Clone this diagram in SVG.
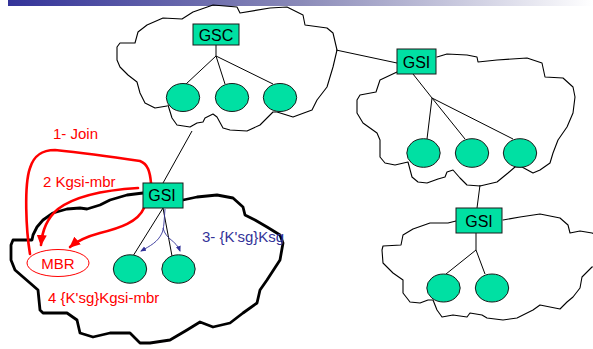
<svg xmlns="http://www.w3.org/2000/svg" width="593" height="349" viewBox="0 0 593 349">
<defs>
<linearGradient id="bar" x1="0" y1="0" x2="1" y2="0">
<stop offset="0" stop-color="#333399"/>
<stop offset="0.5" stop-color="#8a8ab8"/>
<stop offset="1" stop-color="#ffffff"/>
</linearGradient>
<marker id="redArrow" markerUnits="userSpaceOnUse" markerWidth="12" markerHeight="10" refX="10" refY="5" orient="auto">
<path d="M0,0 L11,5 L0,10 z" fill="#ff0000"/>
</marker>
<marker id="blueArrow" markerUnits="userSpaceOnUse" markerWidth="6" markerHeight="6" refX="5" refY="3" orient="auto">
<path d="M0,0.5 L6,3 L0,5.5 z" fill="#333399"/>
</marker>
</defs>
<style>
.cloud{fill:none;stroke:#000;stroke-width:1.1;stroke-linejoin:round;stroke-linecap:round}
.bold{stroke-width:2.8}
.box{fill:#00E0A3;stroke:#1a1a1a;stroke-width:1}
.node{fill:#00E0A3;stroke:#1a1a1a;stroke-width:1}
.lbl{font-family:"Liberation Sans",Arial,sans-serif;font-size:16px;fill:#000;text-anchor:middle}
.red{font-family:"Liberation Sans",Arial,sans-serif;font-size:15px;fill:#ff0000}
.blue{font-family:"Liberation Sans",Arial,sans-serif;font-size:15px;fill:#333399}
.ln{stroke:#000;stroke-width:1;fill:none}
.rc{stroke:#ff0000;stroke-width:2.6;fill:none;stroke-linecap:round}
.bc{stroke:#333399;stroke-width:0.9;fill:none}
</style>
<rect x="8" y="0" width="585" height="6" fill="url(#bar)"/>

<g id="clouds">
<path class="cloud" d="M167,106 L155,108 L145,103 L140,93 L137,82 L128,75 L120,67 L117,60 L117,47 L120,43 L135,43 L138,32 L147,25 L163,18 L182,19 L193,12 L213,5 L237,7 L240,13 L270,8 L287,7 L303,15 L305,25 L327,28 L333,33 L337,50 L333,67 L327,87 L317,100 L312,110 L293,117 L277,112 L273,112 L260,125 L247,131 L230,130 L223,128 L217,117 L213,114 L205,118 L203,122 L197,123 L190,127 L177,125 L172,118 L168,105"/>
<path class="cloud" d="M437,57 L447,54 L467,55 L477,57 L478,62 L497,60 L527,58 L542,63 L545,77 L563,78 L573,87 L575,97 L573,113 L567,127 L558,140 L553,153 L550,163 L540,170 L533,173 L522,167 L515,167 L508,173 L497,182 L480,186 L467,185 L460,178 L453,170 L447,172 L445,177 L438,179 L427,183 L418,182 L412,177 L408,162 L395,165 L385,163 L380,157 L380,140 L377,133 L363,123 L357,113 L357,100 L360,95 L376,92 L380,80 L397,72"/>
<path class="cloud" d="M503,220 L520,217 L540,214 L560,218 L568,225 L570,233 L580,231 L592,233 L600,236 L600,265 L592,267 L582,277 L580,288 L573,297 L567,302 L560,309 L540,305 L533,310 L517,318 L503,320 L487,318 L482,315 L470,313 L467,317 L453,315 L442,317 L437,310 L433,300 L428,300 L420,303 L410,302 L403,293 L403,280 L393,273 L383,263 L382,250 L383,246 L401,245 L403,235 L413,229 L430,223 L448,223 L456,221"/>
<path class="cloud bold" d="M183,200 L197,197 L217,195 L233,198 L243,207 L245,215 L255,220 L267,227 L280,235 L283,243 L280,260 L267,280 L260,290 L257,303 L243,313 L230,323 L213,327 L200,322 L187,330 L170,340 L150,343 L140,343 L130,333 L110,333 L93,337 L80,333 L77,320 L67,313 L43,313 L40,310 L38,290 L30,283 L15,270 L11,260 L11,245 L13,240 L32,240 L33,235 L37,227 L43,220 L53,213 L67,209 L80,208 L87,209 L100,205 L110,200 L127,195 L143,193"/>
</g>

<g id="connectors">
<line class="ln" x1="216" y1="45" x2="216" y2="56"/>
<line class="ln" x1="216" y1="56" x2="186" y2="84"/>
<line class="ln" x1="216" y1="56" x2="225" y2="84"/>
<line class="ln" x1="216" y1="56" x2="273" y2="84"/>
<line class="ln" x1="336" y1="50" x2="397" y2="63"/>
<line class="ln" x1="413" y1="74" x2="432" y2="98"/>
<line class="ln" x1="432" y1="98" x2="427" y2="139"/>
<line class="ln" x1="432" y1="98" x2="465" y2="139"/>
<line class="ln" x1="432" y1="98" x2="513" y2="139"/>
<line class="ln" x1="480" y1="185" x2="477" y2="208"/>
<line class="ln" x1="476" y1="233" x2="476" y2="250"/>
<line class="ln" x1="476" y1="250" x2="446" y2="274"/>
<line class="ln" x1="476" y1="250" x2="485" y2="274"/>
<line class="ln" x1="192" y1="131" x2="163" y2="183"/>
<line class="ln" x1="163" y1="208" x2="133" y2="256"/>
<line class="ln" x1="163" y1="208" x2="172" y2="256"/>
<path class="bc" d="M165,209 C164,222 164,228 162,233 C158,242 150,246 141,251" marker-end="url(#blueArrow)"/>
<path class="bc" d="M163,228 C166,240 176,240 180,251" marker-end="url(#blueArrow)"/>
<path class="rc" d="M30,254 C26,230 24,185 30,168 C34,155 42,150 55,150 C75,152 120,158 140,161 C148,164 150,172 151,183"/>
<path class="rc" d="M138,188 C105,190 75,196 58,209 C46,219 42,232 41,245" marker-end="url(#redArrow)"/>
<path class="rc" d="M144,208 C138,222 120,228 100,233 C85,237 77,241 70,247" marker-end="url(#redArrow)"/>
</g>

<g id="gsc"><rect class="box" x="193" y="24" width="46" height="21"/><text class="lbl" x="216" y="40.5">GSC</text></g>
<g id="gsc-m1"><ellipse class="node" cx="183" cy="97.5" rx="16.7" ry="14"/></g>
<g id="gsc-m2"><ellipse class="node" cx="232" cy="97.5" rx="16.7" ry="14"/></g>
<g id="gsc-m3"><ellipse class="node" cx="280" cy="97.5" rx="16.7" ry="14"/></g>

<g id="gsi-right"><rect class="box" x="397" y="49" width="39" height="25"/><text class="lbl" x="416.5" y="68">GSI</text></g>
<g id="gsi-right-m1"><ellipse class="node" cx="423.5" cy="153" rx="16.7" ry="14.3"/></g>
<g id="gsi-right-m2"><ellipse class="node" cx="472" cy="153" rx="16.7" ry="14.3"/></g>
<g id="gsi-right-m3"><ellipse class="node" cx="520" cy="153" rx="16.7" ry="14.3"/></g>

<g id="gsi-bottom"><rect class="box" x="456" y="208" width="46" height="25"/><text class="lbl" x="479" y="227">GSI</text></g>
<g id="gsi-bottom-m1"><ellipse class="node" cx="443.5" cy="288" rx="16.7" ry="14"/></g>
<g id="gsi-bottom-m2"><ellipse class="node" cx="492" cy="288" rx="16.7" ry="14"/></g>

<g id="gsi-left"><rect class="box" x="143" y="183" width="40" height="25"/><text class="lbl" x="162" y="201">GSI</text></g>
<g id="gsi-left-m1"><ellipse class="node" cx="130" cy="269" rx="16.7" ry="14.2"/></g>
<g id="gsi-left-m2"><ellipse class="node" cx="178.5" cy="269" rx="16.7" ry="14.2"/></g>
<g id="mbr"><ellipse cx="58" cy="263" rx="31" ry="13.5" fill="#fff" stroke="#ff0000" stroke-width="1"/><text class="red" x="58" y="269" text-anchor="middle">MBR</text></g>

<g id="labels">
<text class="red" x="53" y="139">1- Join</text>
<text class="red" x="43" y="187">2 Kgsi-mbr</text>
<text class="red" x="48" y="303">4 {K'sg}Kgsi-mbr</text>
<text class="blue" x="202" y="242">3- {K'sg}Ksg</text>
</g>
</svg>
